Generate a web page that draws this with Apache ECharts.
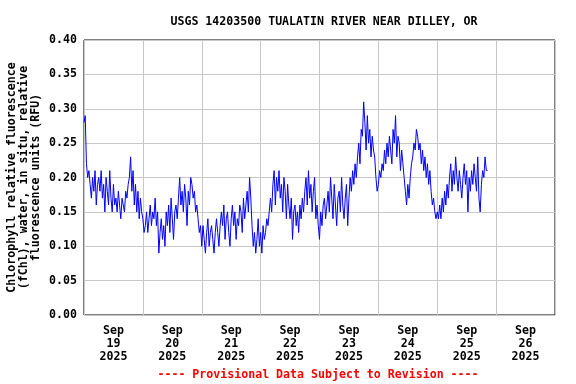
<!DOCTYPE html>
<html>
<head>
<meta charset="utf-8">
<script src="https://cdn.jsdelivr.net/npm/echarts@6/dist/echarts.min.js"></script>
<style>html,body{margin:0;padding:0;background:#fff}#c{width:576px;height:384px}</style>
</head>
<body>
<div id="c"></div>
<script>
// Chlorophyll fluorescence (RFU), 30-minute readings starting Sep 19 00:00
const sep19 = [0.28,0.29,0.22,0.20,0.21,0.19,0.17,0.20,0.18,0.21,0.16,0.19,0.20,
  0.18,0.21,0.17,0.19,0.15,0.20,0.18,0.16,0.21,0.17,0.15,0.19,0.16,
  0.17,0.15,0.18,0.16,0.14,0.17,0.16,0.15,0.18,0.17,0.19,0.20,
  0.23,0.18,0.21,0.16,0.19,0.15,0.18,0.14,0.17,0.15];
const sep20 = [0.14,0.12,0.13,0.15,0.12,0.14,0.16,0.13,0.15,0.14,0.17,0.13,0.15,
  0.09,0.12,0.14,0.11,0.13,0.10,0.15,0.13,0.16,0.12,0.17,0.14,0.11,0.15,0.16,0.14,
  0.17,0.20,0.16,0.18,0.15,0.19,0.17,0.13,0.18,0.16,0.20,0.19,0.17,0.18,0.15,0.16,
  0.14,0.12,0.13];
const sep21 = [0.10,0.13,0.11,0.09,0.12,0.14,0.10,0.12,0.13,0.11,0.09,0.12,0.14,0.12,0.10,0.13,0.15,
  0.13,0.16,0.11,0.14,0.15,0.12,0.10,0.14,0.16,0.13,0.15,0.11,0.14,0.13,0.16,0.15,0.12,0.17,0.14,0.16,0.18,0.15,0.20,0.17,
  0.13,0.10,0.12,0.09,0.11,0.14,0.10];
const sep22 = [0.12,0.09,0.13,0.11,0.12,0.14,0.13,0.15,
  0.17,0.15,0.19,0.21,0.16,0.20,0.18,0.21,0.17,0.19,0.15,0.20,0.18,0.14,0.19,0.16,
  0.14,0.17,0.11,0.15,0.16,0.13,0.15,0.12,0.16,0.14,0.17,0.15,
  0.18,0.20,0.16,0.21,0.17,0.19,0.15,0.18,0.20,0.14,0.16,0.13];
const sep23 = [0.11,0.15,0.13,0.16,0.17,0.14,
  0.16,0.18,0.15,0.20,0.17,0.14,0.19,0.16,0.13,0.17,0.18,0.15,0.20,0.16,0.14,0.17,0.19,0.13,
  0.17,0.20,0.18,0.21,0.19,0.22,0.20,0.23,
  0.25,0.22,0.27,0.26,0.31,0.28,0.24,0.29,0.25,0.27,0.23,0.26,0.24,0.23,
  0.20,0.18];
const sep24 = [0.19,0.21,0.20,0.22,0.21,
  0.24,0.22,0.25,0.23,0.26,0.24,0.22,0.27,0.25,0.29,0.23,0.26,0.25,0.21,0.24,0.22,
  0.20,0.18,0.16,0.19,0.17,0.20,0.22,
  0.23,0.25,0.24,0.27,0.26,0.24,0.25,0.22,
  0.24,0.21,0.23,0.20,0.22,0.19,0.21,0.18,
  0.16,0.17,0.15,0.14];
const sep25 = [0.15,0.14,0.16,0.14,0.17,0.15,0.18,0.16,0.19,
  0.17,0.20,0.22,0.18,0.21,0.19,0.23,0.20,0.18,0.21,0.19,0.17,
  0.20,0.22,0.19,0.21,0.15,0.20,0.18,0.21,0.19,0.22,
  0.20,0.18,0.23,0.17,0.15,0.19,0.21,0.20,0.23,0.21,0.21];
const dayLabels = ['Sep\n19\n2025','Sep\n20\n2025','Sep\n21\n2025','Sep\n22\n2025',
  'Sep\n23\n2025','Sep\n24\n2025','Sep\n25\n2025','Sep\n26\n2025'];
const yTicks = [0,0.05,0.10,0.15,0.20,0.25,0.30,0.35,0.40];
const stepHours = 0.5;

const values = [].concat(sep19,sep20,sep21,sep22,sep23,sep24,sep25);
const pts = values.map((v,i)=>[i*stepHours, v]);

const F = 'DejaVu Sans Mono';
const chart = echarts.init(document.getElementById('c'), null, {renderer:'canvas'});
chart.setOption({
  animation: false,
  backgroundColor: '#fff',
  title: {
    text: 'USGS 14203500 TUALATIN RIVER NEAR DILLEY, OR',
    left: 319, top: 11, textAlign: 'center',
    textStyle: {fontFamily: F, fontWeight: 'bold', fontSize: 11.6, color: '#000'}
  },
  graphic: [{
    type: 'text', x: 318, y: 369,
    style: {text: '---- Provisional Data Subject to Revision ----', align: 'center',
      fill: '#ff0000', font: 'bold 11.6px "DejaVu Sans Mono"'}
  }, {
    type: 'text', x: 24, y: 177.5, rotation: Math.PI / 2,
    style: {text: 'Chlorophyll relative fluorescence\n(fChl), water, in situ, relative\nfluorescence units (RFU)',
      align: 'center', verticalAlign: 'middle', lineHeight: 12.3,
      fill: '#000', font: 'bold 11.6px "DejaVu Sans Mono"'}
  }],
  grid: {left: 84, right: 21, top: 40, bottom: 69, show: true, containLabel: false,
    outerBoundsMode: 'none',
    borderColor: '#000', borderWidth: 1, backgroundColor: 'transparent'},
  xAxis: [{
    type: 'value', min: 0, max: 192, interval: 24,
    axisLine: {show: false}, axisTick: {show: false}, axisLabel: {show: false},
    splitLine: {show: true, lineStyle: {color: '#c8c8c8', width: 1}}
  },{
    type: 'category', data: dayLabels, boundaryGap: true, position: 'bottom',
    axisLine: {show: false}, axisTick: {show: false}, splitLine: {show: false},
    axisLabel: {fontFamily: F, fontWeight: 'bold', fontSize: 11.6, color: '#000',
      lineHeight: 12.7, margin: 10, interval: 0}
  }],
  yAxis: {
    type: 'value', min: 0, max: 0.4, interval: 0.05,
    axisLine: {show: false}, axisTick: {show: false},
    axisLabel: {fontFamily: F, fontWeight: 'bold', fontSize: 11.6, color: '#000', margin: 7,
      formatter: v => yTicks.find(t => Math.abs(t - v) < 1e-9).toFixed(2)},
    splitLine: {show: true, lineStyle: {color: '#c8c8c8', width: 1}}
  },
  series: [{
    type: 'line', data: pts, xAxisIndex: 0, showSymbol: false,
    lineStyle: {color: '#0000ff', width: 1}, itemStyle: {color: '#0000ff'}
  }]
});
</script>
</body>
</html>
